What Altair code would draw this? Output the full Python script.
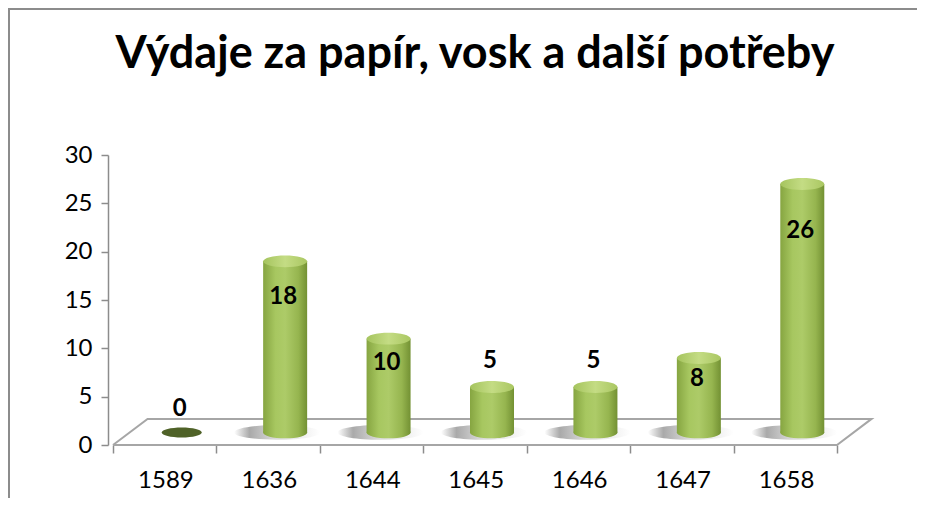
import json
import altair as alt
import pandas as pd

# ---- data ----
categories = ["1589", "1636", "1644", "1645", "1646", "1647", "1658"]
values = [0, 18, 10, 5, 5, 8, 26]
y_ticks = [0, 5, 10, 15, 20, 25, 30]
title_text = "Výdaje za papír, vosk a další potřeby"

n = len(categories)
df = pd.DataFrame({"cat": categories, "value": values, "idx": list(range(n))})

# ---- style / layout constants ----
W, H = 734, 290
BASE = 1.3        # floor level where cylinders stand (data units, 3D depth)
TOP_GAP = 1.0     # projected offset of cylinder top
DEPTH_X = 0.334   # floor depth in x (category units)
DEPTH_Y = 2.7     # floor depth in y (data units)
SHIFT = 17        # pixel shift of cylinders toward the back
BAR_W = 44
FONT = "Lato"
GRAY = "#8c8c8c"


def ellipse(r):
    return f"M -1 0 A 1 {r} 0 1 1 1 0 A 1 {r} 0 1 1 -1 0 Z"


def grad(stops):
    return alt.Gradient(
        gradient="linear",
        stops=[alt.GradientStop(color=c, offset=o) for o, c in stops],
        x1=0, x2=1, y1=0, y2=0,
    )


body_grad = grad([(0, "#86a541"), (0.28, "#a7c760"), (0.5, "#adcb68"),
                  (0.8, "#96b54f"), (1, "#739133")])
top_grad = grad([(0, "#a5c45e"), (0.5, "#c4dc84"), (1, "#aac762")])
shadow_grad = grad([(0, "#ffffff"), (0.18, "#a0a0a0"), (0.45, "#d2d2d2"), (1, "#ffffff")])

xs = alt.Scale(domain=[0, n], nice=False, zero=False)
ys = alt.Scale(domain=[0, 30], nice=False, zero=False)

x_axis = alt.Axis(
    values=list(range(n + 1)),
    labelExpr=f"datum.value < {n} ? {json.dumps(categories)}[datum.value] : ''",
    labelOffset=W / n / 2, labelFlush=False, labelOverlap=False,
    tickSize=8, tickColor=GRAY, tickWidth=1.5, domain=False, grid=False,
    labelFontSize=24, labelColor="black", labelPadding=15, title=None, labelFont=FONT,
)
y_axis = alt.Axis(
    values=y_ticks, tickSize=7, tickColor=GRAY, tickWidth=1.5,
    domainColor=GRAY, domainWidth=1.5, grid=False,
    labelFontSize=24, labelColor="black", labelPadding=9, title=None, labelFont=FONT,
)

base = alt.Chart(df).transform_calculate(
    xpos="datum.idx + 0.5",
    top=f"datum.value + {TOP_GAP}",
    bottom=f"{BASE}",
    laby="datum.value <= 5 ? datum.value + 3.7 : datum.value * 0.85",
)

X = alt.X("xpos:Q", scale=xs, axis=x_axis)


def Y(field):
    return alt.Y(field, scale=ys, axis=y_axis)


# 3D floor
floor_df = pd.DataFrame({
    "fx": [0, n, n + DEPTH_X, DEPTH_X, 0],
    "fy": [0, 0, DEPTH_Y, DEPTH_Y, 0],
    "o": [0, 1, 2, 3, 4],
})
floor = alt.Chart(floor_df).mark_line(color="#a6a6a6", strokeWidth=2).encode(
    x=alt.X("fx:Q", scale=xs, axis=x_axis),
    y=Y("fy:Q"),
    order="o:Q",
)

# frame around the whole chart
frame = alt.Chart(pd.DataFrame({"k": [0]})).mark_rect(
    fillOpacity=0, stroke=GRAY, strokeWidth=2
).encode(
    x=alt.value(-99), x2=alt.value(W + 100), y=alt.value(-146), y2=alt.value(H + 80)
)

shadows = base.transform_filter("datum.value > 0").mark_point(
    shape=ellipse(0.17), size=86 ** 2, filled=True, fill=shadow_grad,
    strokeWidth=0, opacity=0.9, xOffset=SHIFT - 8,
).encode(x=X, y=Y("bottom:Q"))

bottoms = base.transform_filter("datum.value > 0").mark_point(
    shape=ellipse(0.27), size=BAR_W ** 2, filled=True, fill=body_grad,
    strokeWidth=0, opacity=1, xOffset=SHIFT,
).encode(x=X, y=Y("bottom:Q"))

bodies = base.transform_filter("datum.value > 0").mark_bar(
    size=BAR_W, fill=body_grad, xOffset=SHIFT,
).encode(
    x=X,
    y=Y("top:Q"),
    y2="bottom:Q",
)

tops = base.transform_filter("datum.value > 0").mark_point(
    shape=ellipse(0.27), size=BAR_W ** 2, filled=True, fill=top_grad,
    strokeWidth=0, opacity=1, xOffset=SHIFT,
).encode(x=X, y=Y("top:Q"))

zero_disk = base.transform_filter("datum.value == 0").mark_point(
    shape=ellipse(0.25), size=40 ** 2, filled=True, fill="#4f6228",
    strokeWidth=0, opacity=1, xOffset=SHIFT,
).encode(x=X, y=Y("bottom:Q"))

labels = base.mark_text(
    font=FONT, fontWeight="bold", fontSize=24, color="black",
    baseline="middle", xOffset=SHIFT - 2,
).encode(
    x=X,
    y=Y("laby:Q"),
    text=alt.Text("value:Q"),
)

chart = alt.layer(
    floor, frame, shadows, bottoms, bodies, tops, zero_disk, labels
).properties(
    width=W, height=H,
    autosize=alt.AutoSizeParams(type="none"),
    padding={"left": 100, "top": 147, "right": 75, "bottom": 53},
    title=alt.TitleParams(
        title_text, font=FONT, fontSize=45, fontWeight="bold", color="black",
        anchor="middle", frame="group", baseline="alphabetic", offset=0, dy=105,
    ),
).configure_view(stroke=None)

chart.save("out.html", embed_options={"renderer": "svg", "actions": False})
